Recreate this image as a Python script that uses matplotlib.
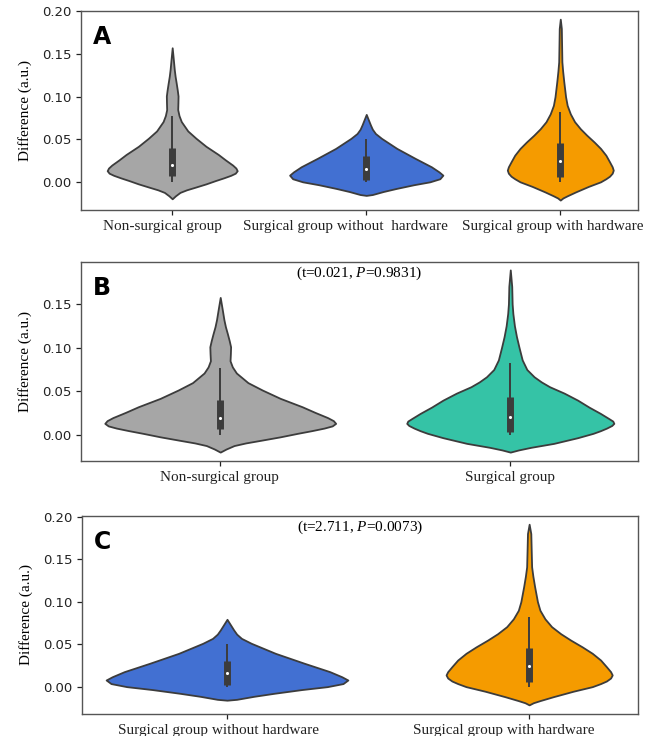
import numpy as np
import matplotlib
matplotlib.use("Agg")
import matplotlib.pyplot as plt

plt.rcParams["mathtext.fontset"] = "custom"
plt.rcParams["mathtext.rm"] = "Liberation Serif"
plt.rcParams["mathtext.it"] = "Liberation Serif:italic"

# violin outlines: y level -> relative half width
non_y = [-0.0195, -0.016, -0.012, -0.009, -0.006, -0.002, 0.002, 0.005, 0.008, 0.0105,
         0.0134, 0.0165, 0.02, 0.026, 0.0324, 0.042, 0.0515, 0.06, 0.071, 0.078,
         0.085, 0.093, 0.101, 0.108, 0.116, 0.124, 0.132, 0.145, 0.1575]
non_w = [0.0, 0.05, 0.12, 0.22, 0.35, 0.52, 0.67, 0.79, 0.9, 0.97,
         1.0, 0.98, 0.93, 0.82, 0.71, 0.52, 0.365, 0.24, 0.14, 0.105,
         0.085, 0.088, 0.09, 0.078, 0.062, 0.045, 0.032, 0.016, 0.0]

surg_y = [-0.0195, -0.017, -0.014, -0.0095, -0.003, 0.002, 0.005, 0.008, 0.011, 0.0134,
          0.016, 0.019, 0.0248, 0.032, 0.040, 0.048, 0.0553, 0.0608, 0.0667, 0.075,
          0.086, 0.1, 0.1125, 0.125, 0.139, 0.15, 0.17, 0.189]
surg_w = [0.0, 0.08, 0.2, 0.42, 0.65, 0.8, 0.87, 0.93, 0.98, 1.0,
          0.99, 0.95, 0.87, 0.76, 0.65, 0.52, 0.38, 0.3, 0.23, 0.16,
          0.115, 0.085, 0.06, 0.04, 0.025, 0.018, 0.014, 0.0]

wo_y = [-0.0155, -0.0145, -0.011, -0.0074, -0.003, 0.0004, 0.004, 0.0082, 0.012, 0.018,
        0.0278, 0.0395, 0.0513, 0.057, 0.062, 0.067, 0.0794]
wo_w = [0.0, 0.08, 0.22, 0.39, 0.62, 0.83, 0.96, 1.0, 0.95, 0.85,
        0.64, 0.40, 0.20, 0.12, 0.08, 0.055, 0.0]

wh_y = [-0.021, -0.0185, -0.016, -0.0114, -0.005, 0.0004, 0.004, 0.007, 0.0105, 0.0141,
        0.018, 0.0238, 0.0316, 0.0395, 0.047, 0.055, 0.0625, 0.0708, 0.08, 0.09,
        0.1, 0.1177, 0.13, 0.141, 0.16, 0.18, 0.191]
wh_w = [0.0, 0.05, 0.13, 0.29, 0.53, 0.76, 0.86, 0.93, 0.98, 1.0,
        0.98, 0.93, 0.86, 0.76, 0.64, 0.50, 0.38, 0.27, 0.19, 0.13,
        0.1, 0.066, 0.045, 0.03, 0.025, 0.02, 0.0]

# box stats: whisker low, q1, median, q3, whisker high
non_box = [0.0, 0.007, 0.020, 0.040, 0.077]
surg_box = [0.0, 0.004, 0.021, 0.044, 0.082]
wo_box = [0.0, 0.0023, 0.016, 0.0305, 0.051]
wh_box = [0.0, 0.0062, 0.025, 0.0454, 0.0825]

shapes = {
    "non": (non_y, non_w, non_box, "#a6a6a6"),
    "surg": (surg_y, surg_w, surg_box, "#35c3a6"),
    "wo": (wo_y, wo_w, wo_box, "#4270d2"),
    "wh": (wh_y, wh_w, wh_box, "#f59b00"),
}

# labels in the original sit a little left of their ticks (pixels)
panels = [
    ("A", ["non", "wo", "wh"],
     ["Non-surgical group", "Surgical group without  hardware", "Surgical group with hardware"],
     [0.67, 0.79, 0.546], (-0.47, 2.40), (-0.0326, 0.2005), None, [-10, -21, -8]),
    ("B", ["non", "surg"], ["Non-surgical group", "Surgical group"],
     [0.796, 0.714], (-0.48, 1.44), (-0.0297, 0.198), ("0.021", "0.9831"), [-1, 0]),
    ("C", ["wo", "wh"], ["Surgical group without hardware", "Surgical group with hardware"],
     [0.80, 0.55], (-0.48, 1.36), (-0.0317, 0.2007), ("2.711", "0.0073"), [-9, -25]),
]

axes_pos = [
    [0.1229, 0.7147, 0.8451, 0.2703],
    [0.1229, 0.3736, 0.8451, 0.2704],
    [0.1244, 0.0299, 0.8436, 0.2691],
]

ytick_vals = [0.0, 0.05, 0.10, 0.15, 0.20]
edge = "#3c3c3c"
fig = plt.figure(figsize=(6.59, 7.36), dpi=100)

for (letter, keys, labels, widths, xlim, ylim, stat, shifts), pos in zip(panels, axes_pos):
    ax = fig.add_axes(pos)
    xs = np.arange(len(keys))
    stats = []
    for k in keys:
        yy, ww, bx, col = shapes[k]
        stats.append(dict(coords=np.array(yy), vals=np.array(ww), mean=bx[2],
                          median=bx[2], min=yy[0], max=yy[-1]))
    parts = ax.violin(stats, positions=xs, widths=widths,
                      showmeans=False, showextrema=False, showmedians=False)
    for body, k in zip(parts["bodies"], keys):
        body.set_facecolor(shapes[k][3])
        body.set_edgecolor(edge)
        body.set_linewidth(1.3)
        body.set_joinstyle("round")
        body.set_alpha(1)
    for x, k in zip(xs, keys):
        bx = shapes[k][2]
        ax.vlines(x, bx[0], bx[4], color=edge, lw=1.4, zorder=3)
        ax.vlines(x, bx[1], bx[3], color=edge, lw=5, zorder=3)
        ax.scatter([x], [bx[2]], s=5, color="white", zorder=4, linewidths=0)

    ax.set_xlim(*xlim)
    ax.set_ylim(*ylim)
    yt = [v for v in ytick_vals if v <= ylim[1] + 1e-9]
    ax.set_yticks(yt)
    ax.set_yticklabels(["%.2f" % v for v in yt])
    ax.set_xticks(xs)
    ax.set_xticklabels([])
    # category names drawn as annotations so they can sit off-centre like the original
    for x, lab, dx in zip(xs, labels, shifts):
        ax.annotate(lab, xy=(x, 0), xycoords=ax.get_xaxis_transform(),
                    xytext=(dx * 0.72, -7.5), textcoords="offset points",
                    ha="center", va="top", family="Liberation Serif", fontsize=11,
                    color="#222222")
    ax.tick_params(axis="y", labelsize=9.5, length=3.5, width=0.9, colors="#222222")
    ax.tick_params(axis="x", length=3.5, width=0.9, colors="#222222")
    for s in ax.spines.values():
        s.set_color("#555555")
        s.set_linewidth(1.0)
    ax.set_ylabel("Difference (a.u.)", family="Liberation Serif", fontsize=11, labelpad=7)
    ax.text(0.022, 0.93, letter, transform=ax.transAxes, fontsize=17,
            fontweight="bold", va="top", ha="left", color="black")
    if stat:
        ax.text(0.5, 0.985, "(t=%s, $\\mathit{P}$=%s)" % stat, transform=ax.transAxes,
                ha="center", va="top", family="Liberation Serif", fontsize=11)

fig.savefig("out.png", dpi=100)
